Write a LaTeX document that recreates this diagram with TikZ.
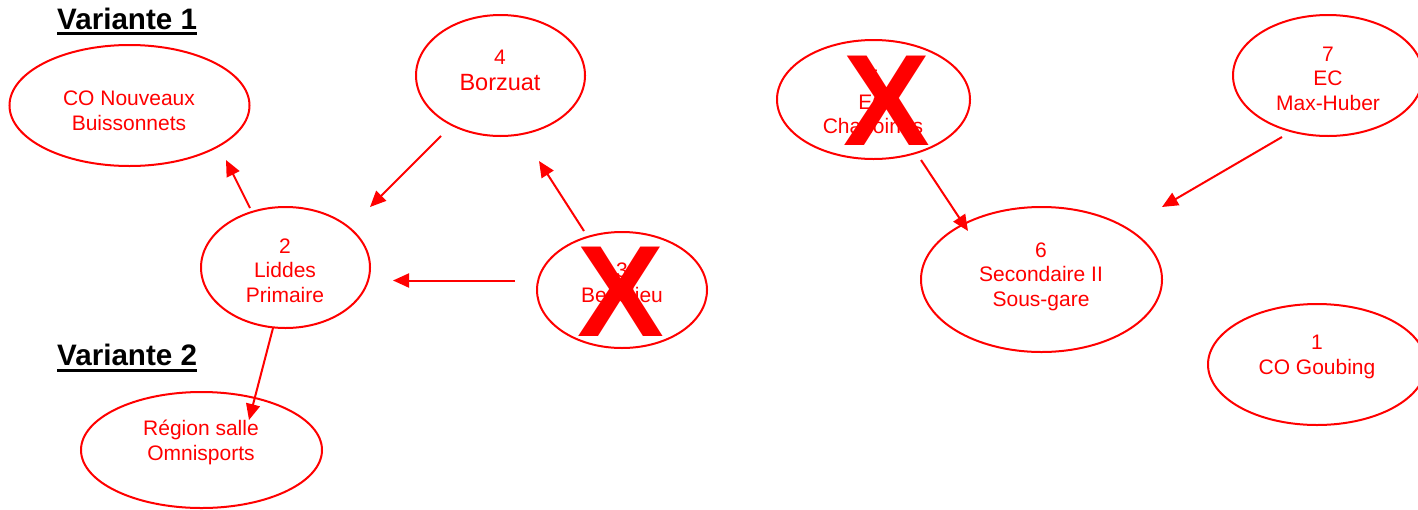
\documentclass[tikz,border=0pt]{standalone}
\usepackage{fontspec}
\setmainfont{Liberation Sans}
\usetikzlibrary{arrows.meta,shapes.geometric}
\begin{document}
\begin{tikzpicture}[x=1pt,y=-1pt,
  oval/.style={draw=red,line width=2pt,ellipse,inner sep=0pt,outer sep=0pt},
  txt/.style={text=red,align=center,inner sep=0pt,anchor=base,font=\fontsize{21}{24.5}\selectfont},
  bigtxt/.style={text=red,inner sep=0pt,anchor=base,font=\fontsize{23.5}{26}\selectfont},
  bigx/.style={text=red,inner sep=0pt,font=\fontsize{130}{130}\selectfont\bfseries},
  head/.style={text=black,inner sep=0pt,anchor=base west,font=\fontsize{29.6}{31}\selectfont\bfseries},
  uline/.style={draw=black,line width=3.3pt},
  link/.style={draw=red,line width=2pt,-{Triangle[length=16pt,width=14pt]}}]
\path[use as bounding box] (0,0) rectangle (1418,509);

% ellipses
\node[oval,minimum width=240pt,minimum height=121pt] (nou) at (129.5,105.5) {};
\node[oval,minimum width=169pt,minimum height=121pt] (bor) at (500.5,75.5) {};
\node[oval,minimum width=169pt,minimum height=121pt] (lid) at (285.5,267.5) {};
\node[oval,minimum width=170pt,minimum height=116pt] (bea) at (622,290) {};
\node[oval,minimum width=193pt,minimum height=119pt] (cha) at (873.5,99.5) {};
\node[oval,minimum width=190pt,minimum height=121pt] (max) at (1328,75.5) {};
\node[oval,minimum width=241pt,minimum height=145pt] (sec) at (1041.5,279.5) {};
\node[oval,minimum width=218pt,minimum height=121pt] (gou) at (1317,364.5) {};
\node[oval,minimum width=241pt,minimum height=116pt] (reg) at (201.5,450) {};

% texts (anchored at the baseline of their last line)
\node[txt] (tnou) at (129,130) {CO Nouveaux\\Buissonnets};
\node[txt] (tbor4) at (500,64) {4};
\node[bigtxt] (tbor) at (500,90) {Borzuat};
\node[txt] (tlid) at (285,302) {2\\Liddes\\Primaire};
\node[txt] (tbea) at (622,302) {3\\Beaulieu};
\node[txt] (tcha) at (873,133.5) {5\\EC\\Chanoines};
\node[txt] (tmax) at (1328,110) {7\\EC\\Max-Huber};
\node[txt] (tsec) at (1041,306) {6\\Secondaire II\\Sous-gare};
\node[txt] (tgou) at (1317,374) {1\\CO Goubing};
\node[txt] (treg) at (201,460) {Région salle\\Omnisports};

% headings
\node[head] (v1) at (57,29.3) {Variante 1};
\draw[uline] ([yshift=-4.5pt]v1.base west) -- ([yshift=-4.5pt]v1.base east);
\node[head] (v2) at (57,365) {Variante 2};
\draw[uline] ([yshift=-5.5pt]v2.base west) -- ([yshift=-5.5pt]v2.base east);

% connector end points
\coordinate (a1s) at (250,208); \coordinate (a1e) at (226,160);
\coordinate (a2s) at (441,136); \coordinate (a2e) at (370,207);
\coordinate (a3s) at (584,231); \coordinate (a3e) at (539,161);
\coordinate (a4s) at (515,280.5); \coordinate (a4e) at (393,280.5);
\coordinate (a5s) at (273,328); \coordinate (a5e) at (249,420);
\coordinate (a6s) at (921,160); \coordinate (a6e) at (968,231);
\coordinate (a7s) at (1282,137); \coordinate (a7e) at (1162,207);

\draw[link] (a1s) -- (a1e);
\draw[link] (a2s) -- (a2e);
\draw[link] (a3s) -- (a3e);
\draw[link] (a4s) -- (a4e);
\draw[link] (a5s) -- (a5e);
\draw[link] (a6s) -- (a6e);
\draw[link] (a7s) -- (a7e);

% crosses
\node[bigx] (xcha) at (887,100.5) {X};
\node[bigx] (xbea) at (621,291.5) {X};
\end{tikzpicture}
\end{document}
